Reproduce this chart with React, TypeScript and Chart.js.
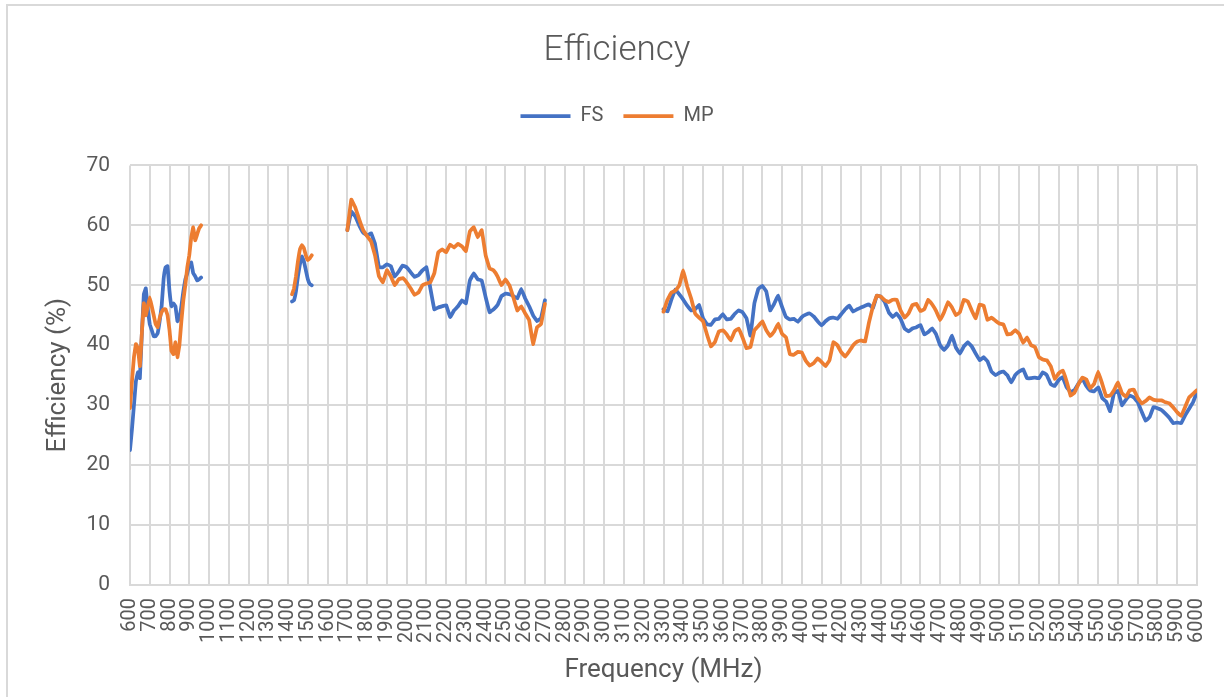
import React, { useEffect, useRef } from "react";
import { Chart, registerables, layouts } from "chart.js";

Chart.register(...registerables);

// ---- Data (frequency in MHz, efficiency in %) ----
const SERIES_NAMES = ["FS", "MP"];
const X_MIN = 600;
const X_MAX = 6000;
const X_STEP = 100;
const Y_MIN = 0;
const Y_MAX = 70;
const Y_STEP = 10;

// Segment 1: 600–960 MHz, 10 MHz step
const seg1Start = 600;
const seg1Step = 10;
const fs1 = [22.5, 26, 30, 34, 35.5, 34.5, 42, 48.5, 49.5, 46, 43.5, 42.5, 41.5, 41.5, 42, 44, 46.5, 51, 53, 53.2, 49, 46.5, 47, 46.5, 44, 44.5, 46.5, 49, 51, 52, 53.5, 53.8, 52, 51.5, 50.8, 51, 51.3];
const mp1 = [29.5, 34, 38, 40.2, 39.5, 36.5, 42, 47, 45, 46.5, 48, 46.5, 45, 43.5, 43, 44.5, 45.5, 46, 46, 45, 42.5, 39, 38.5, 40.5, 38, 40, 44, 47.5, 50, 53, 55, 58, 59.7, 57.5, 58.5, 59.5, 60];

// Segment 2: 1420–1520 MHz, 10 MHz step
const seg2Start = 1420;
const seg2Step = 10;
const fs2 = [47.3, 47.5, 49, 51.5, 53.5, 54.8, 54, 52.5, 51, 50.2, 50];
const mp2 = [48.5, 49.5, 51.5, 54, 56, 56.7, 56.2, 55, 54.2, 54.5, 55];

// Segment 3: 1700–2700 MHz, 20 MHz step
const seg3Start = 1700;
const seg3Step = 20;
const fs3 = [59.2, 62.3, 61.5, 60, 58.8, 58.3, 58.7, 56.9, 53, 53, 53.5, 53.2, 51.4, 52.3, 53.3, 53, 52.2, 51.4, 51.7, 52.5, 53, 49.5, 46, 46.3, 46.5, 46.7, 44.7, 45.8, 46.5, 47.5, 47, 50.8, 52, 51, 50.8, 48, 45.5, 46, 46.7, 48.2, 48.6, 48.5, 48.2, 47.8, 49.4, 47.8, 46.5, 45, 44, 44.5, 47.5];
const mp3 = [59.2, 64.3, 63, 61, 59.2, 58.2, 57.3, 55, 51.5, 50.5, 52.5, 51.5, 50, 51, 51.2, 50.5, 49.5, 48.4, 48.8, 50, 50.3, 50.5, 52, 55.5, 56, 55.5, 56.8, 56.3, 56.9, 56.5, 55.7, 59, 59.7, 58, 59.2, 55, 52.8, 52.5, 51.5, 50, 51, 50, 48, 45.8, 46.5, 45.3, 44.2, 40.2, 43, 43.5, 46.9];

// Segment 4: 3300–6000 MHz, 20 MHz step
const seg4Start = 3300;
const seg4Step = 20;
const fs4 = [
  46, 45.6, 47.6, 49.3, 48.5, 47.6, 46.6, 45.8, 46, 46.7,
  44.5, 43.5, 43.4, 44.3, 44.4, 45.2, 44.3, 44.4, 45.2, 45.8,
  45.5, 44.5, 41.6, 47, 49.4, 49.9, 49, 45.8, 46.9, 48.3,
  46.4, 44.7, 44.3, 44.4, 43.9, 44.7, 45.1, 45.3, 44.8, 44,
  43.3, 44, 44.5, 44.6, 44.4, 45.2, 46, 46.6, 45.6, 46,
  46.3, 46.6, 46.8, 46.2, 48.3, 48.1, 47.2, 45.5, 44.7, 45.3,
  44.4, 42.8, 42.3, 42.8, 43, 43.4, 41.8, 42.2, 42.8, 41.8,
  40, 39.2, 40, 41.6, 39.6, 38.6, 39.8, 40.5, 39.8, 38.6,
  37.5, 38, 37.3, 35.6, 35, 35.4, 35.6, 35, 33.8, 35,
  35.6, 36, 34.5, 34.5, 34.6, 34.5, 35.5, 35, 33.5, 33.2,
  34.2, 34.7, 33, 32.2, 32.5, 33.6, 34.4, 33.2, 32.4, 32.3,
  33, 31.2, 30.6, 29, 32, 32.4, 30, 30.9, 31.6, 31.3,
  30.5, 28.9, 27.4, 28, 29.7, 29.5, 29.2, 28.6, 27.9, 27,
  27.1, 27, 28.3, 29.4, 30.5, 32.2,
];
const mp4 = [
  45.6, 47.6, 48.8, 49.1, 50, 52.5, 49.8, 47.8, 45.3, 44.6,
  44, 41.8, 39.8, 40.5, 42.3, 42.5, 41.8, 40.8, 42.3, 42.8,
  41.3, 39.5, 39.7, 42.5, 43.2, 44, 42.5, 41.5, 42.3, 43.6,
  41.9, 41.3, 38.5, 38.4, 38.9, 38.8, 37.4, 36.6, 37, 37.8,
  37.2, 36.5, 37.5, 40.5, 40, 38.8, 38.1, 39, 40, 40.6,
  40.8, 40.6, 43.8, 46.5, 48.3, 48.1, 47.5, 47.2, 47.6, 47.6,
  45.8, 44.6, 45.3, 46.7, 46.9, 45.7, 46, 47.6, 46.8, 45.7,
  44.2, 45.5, 47.2, 46.3, 45, 45.5, 47.6, 47.3, 45.8, 44.5,
  46.8, 46.6, 44.2, 44.6, 44.1, 43.6, 43.5, 41.8, 41.9, 42.5,
  41.9, 40.4, 41.3, 40, 39.7, 38, 37.6, 37.5, 36.5, 34.4,
  35.3, 35.8, 34, 31.6, 32.1, 33.5, 34.6, 34.3, 32.8, 33.6,
  35.6, 33.6, 31.5, 31.6, 32.5, 33.8, 32, 31.4, 32.5, 32.6,
  31.2, 30.3, 30.7, 31.3, 30.9, 30.8, 30.8, 30.5, 30.3, 29.6,
  28.8, 28.2, 29.7, 31.3, 31.9, 32.5,
];

type Seg = { start: number; step: number; values: number[] };

function toPoints(segs: Seg[]) {
  const pts: { x: number; y: number | null }[] = [];
  segs.forEach((s, i) => {
    if (i > 0) {
      const prev = segs[i - 1];
      const prevEnd = prev.start + (prev.values.length - 1) * prev.step;
      pts.push({ x: (prevEnd + s.start) / 2, y: null });
    }
    s.values.forEach((v, j) => pts.push({ x: s.start + j * s.step, y: v }));
  });
  return pts;
}

const fsPoints = toPoints([
  { start: seg1Start, step: seg1Step, values: fs1 },
  { start: seg2Start, step: seg2Step, values: fs2 },
  { start: seg3Start, step: seg3Step, values: fs3 },
  { start: seg4Start, step: seg4Step, values: fs4 },
]);
const mpPoints = toPoints([
  { start: seg1Start, step: seg1Step, values: mp1 },
  { start: seg2Start, step: seg2Step, values: mp2 },
  { start: seg3Start, step: seg3Step, values: mp3 },
  { start: seg4Start, step: seg4Step, values: mp4 },
]);

const TEXT = "#595959";
const GRID = "#d9d9d9";
const FONT = "Roboto, 'Liberation Sans', sans-serif";

const spacerPlugin = {
  id: "spacer",
  beforeInit(chart: any) {
    const box: any = {
      position: "top",
      weight: 500,
      fullSize: true,
      options: { stack: undefined, stackWeight: 1 },
      width: 0,
      height: 0,
      top: 0,
      left: 0,
      right: 0,
      bottom: 0,
      isHorizontal() {
        return true;
      },
      update(maxWidth: number) {
        this.width = maxWidth;
        this.height = 29.4;
      },
      draw() {},
    };
    layouts.addBox(chart, box);
  },
};

export default function App() {
  const ref = useRef<HTMLCanvasElement | null>(null);

  useEffect(() => {
    if (!ref.current) return;
    Chart.defaults.font.family = FONT;
    Chart.defaults.color = TEXT;
    const chart = new Chart(ref.current, {
      type: "line",
      data: {
        datasets: [
          {
            label: SERIES_NAMES[0],
            data: fsPoints as any,
            borderColor: "#4472C4",
            backgroundColor: "#4472C4",
            borderWidth: 3.75,
            pointRadius: 0,
            tension: 0.05,
            borderCapStyle: "round",
            borderJoinStyle: "round",
            spanGaps: false,
            order: 1,
          },
          {
            label: SERIES_NAMES[1],
            data: mpPoints as any,
            borderColor: "#ED7D31",
            backgroundColor: "#ED7D31",
            borderWidth: 3.75,
            pointRadius: 0,
            tension: 0.05,
            borderCapStyle: "round",
            borderJoinStyle: "round",
            spanGaps: false,
            order: 0,
          },
        ],
      },
      options: {
        responsive: false,
        animation: false,
        layout: { padding: { left: 37, right: 27, top: 0, bottom: 0 } },
        plugins: {
          title: {
            display: true,
            text: "Efficiency",
            color: TEXT,
            font: { size: 35, weight: "300" as any, family: FONT },
            padding: { top: 30, bottom: 14 },
          },
          legend: {
            display: true,
            position: "top",
            labels: {
              usePointStyle: true,
              pointStyle: "line",
              pointStyleWidth: 50,
              padding: 20,
              color: TEXT,
              font: { size: 20, family: FONT },
              sort: (a: any, b: any) => a.datasetIndex - b.datasetIndex,
            },
          },
          tooltip: { enabled: false },
        },
        scales: {
          x: {
            type: "linear",
            min: X_MIN,
            max: X_MAX,
            ticks: {
              stepSize: X_STEP,
              autoSkip: false,
              minRotation: 90,
              maxRotation: 90,
              padding: 13,
              color: TEXT,
              font: { size: 20, family: FONT },
              callback: (v: any) => String(v),
            },
            grid: { color: GRID, lineWidth: 2, drawTicks: false },
            border: { color: GRID, width: 2 },
            title: {
              display: true,
              text: "Frequency (MHz)",
              color: TEXT,
              font: { size: 26, family: FONT },
              padding: { top: 0, bottom: 11 },
            },
            afterFit: (s: any) => {
              s.height = 112;
              s.paddingLeft = 0;
              s.paddingRight = 0;
            },
          },
          y: {
            min: Y_MIN,
            max: Y_MAX,
            ticks: {
              stepSize: Y_STEP,
              padding: 20,
              color: TEXT,
              font: { size: 21, family: FONT },
            },
            grid: { color: GRID, lineWidth: 2, drawTicks: false },
            border: { display: false },
            title: {
              display: true,
              text: "Efficiency (%)",
              color: TEXT,
              font: { size: 26, family: FONT },
              padding: { top: 6, bottom: 0 },
            },
            afterFit: (s: any) => {
              s.width = 93;
              s.paddingTop = 0;
              s.paddingBottom = 0;
            },
          },
        },
      },
      plugins: [spacerPlugin as any],
    });
    return () => chart.destroy();
  }, []);

  return (
    <div
      style={{
        position: "fixed",
        left: 0,
        top: 0,
        width: 1224,
        height: 697,
        overflow: "hidden",
        background: "#ffffff",
      }}
    >
      <div
        style={{
          position: "absolute",
          left: 6,
          top: 4,
          width: 1240,
          height: 720,
          border: "2px solid #d9d9d9",
          boxSizing: "border-box",
        }}
      />
      <canvas
        ref={ref}
        width={1224}
        height={697}
        style={{ position: "absolute", left: 0, top: 0, width: 1224, height: 697 }}
      />
    </div>
  );
}
